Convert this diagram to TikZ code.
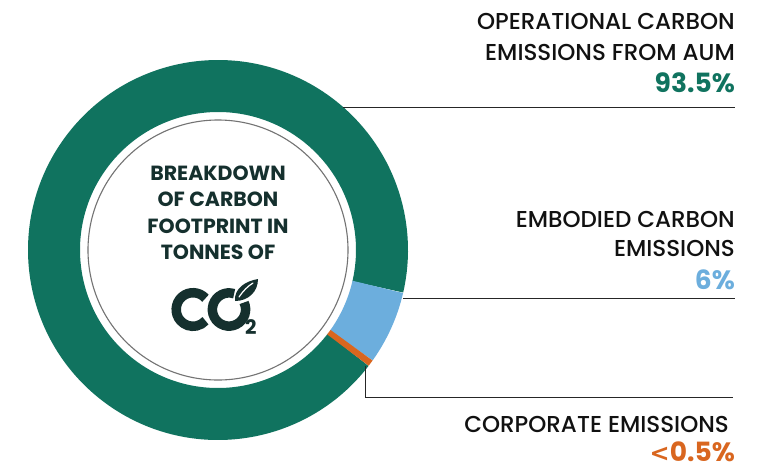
\documentclass[tikz,border=0pt]{standalone}
\usepackage{fontspec}
\setmainfont{Poppins}
\newfontfamily\labfont{Poppins Medium}
\newfontfamily\boldfont{Poppins Bold}
\definecolor{ringteal}{HTML}{10735F}
\definecolor{ringblue}{HTML}{6CAEDD}
\definecolor{ringorange}{HTML}{D9661F}
\definecolor{darktext}{HTML}{15302E}
\definecolor{labtext}{HTML}{111111}
\begin{document}
\begin{tikzpicture}[x=1pt,y=-1pt,
  seg/.style={line width=52pt},
  leader/.style={line width=1pt,draw=black!85},
  lab/.style={anchor=base east,inner sep=0pt,text=labtext,font=\labfont\fontsize{23}{23}\selectfont},
  pct/.style={anchor=base east,inner sep=0pt,font=\boldfont\fontsize{26.5}{26.5}\selectfont},
  ctr/.style={anchor=base,inner sep=0pt,text=darktext,font=\boldfont\fontsize{20.5}{20.5}\selectfont},
  logo/.style={line width=9.5pt,draw=darktext}]
\useasboundingbox (0,0) rectangle (768,469);
\fill[white] (0,0) rectangle (768,469);
\coordinate (c) at (218,250);
% ring segments (angles in flipped coordinates: positive = clockwise on screen)
\draw[seg,ringteal] (c) ++(37.5:164) arc[start angle=37.5,end angle=373,radius=164];
\draw[seg,ringblue] (c) ++(13:164) arc[start angle=13,end angle=35.6,radius=164];
\draw[seg,ringorange] (c) ++(35.5:164) arc[start angle=35.5,end angle=37.6,radius=164];
% inner thin circle
\draw[line width=1.1pt,draw=black!55] (c) circle[radius=130];
% centre text
\node[ctr] (t1) at (218,180) {BREAKDOWN};
\node[ctr] (t2) at (218,206.5) {OF CARBON};
\node[ctr] (t3) at (218,233) {FOOTPRINT IN};
\node[ctr] (t4) at (218,259) {TONNES OF};
% CO2 logo
\coordinate (cC) at (193,309.5);
\coordinate (cO) at (229,309.5);
\draw[logo] (cC) ++(-42:16.8) arc[start angle=-42,end angle=-318,radius=16.8];
\draw[logo] (cO) ++(-72:16.6) arc[start angle=-72,end angle=-385,radius=16.6];
\fill[darktext] (235,301) .. controls (234,288) and (246,281) .. (258,279)
  .. controls (258,292) and (248,301) .. (235,301) -- cycle;
\draw[white,line width=1.2pt,line cap=round] (239,297) .. controls (243,291) and (248,286) .. (253,283);
\node[anchor=base west,inner sep=0pt,text=darktext,font=\boldfont\fontsize{20}{20}\selectfont] (two) at (245,334) {2};
% labels
\node[lab] (l1a) at (735,29) {OPERATIONAL CARBON};
\node[lab] (l1b) at (735,60) {EMISSIONS FROM AUM};
\node[pct,text=ringteal] (p1) at (735,92) {93.5\%};
\node[lab] (l2a) at (735,227) {EMBODIED CARBON};
\node[lab] (l2b) at (735,256) {EMISSIONS};
\node[pct,text=ringblue] (p2) at (735,289) {6\%};
\node[lab] (l3a) at (729,432) {CORPORATE EMISSIONS};
\node[pct,text=ringorange] (p3) at (735,461) {{\fontspec{DejaVu Sans Bold}\fontsize{24}{24}\selectfont<}0.5\%};
% leaders
\coordinate (a1) at (343,107);
\coordinate (b1) at (735,107);
\coordinate (a2) at (403,298);
\coordinate (b2) at (735,298);
\coordinate (a3) at (365.5,366);
\coordinate (k3) at (365.5,397);
\coordinate (b3) at (733,397);
\draw[leader] (a1) -- (b1);
\draw[leader] (a2) -- (b2);
\draw[leader] (a3) -- (k3) -- (b3);
\end{tikzpicture}
\end{document}
